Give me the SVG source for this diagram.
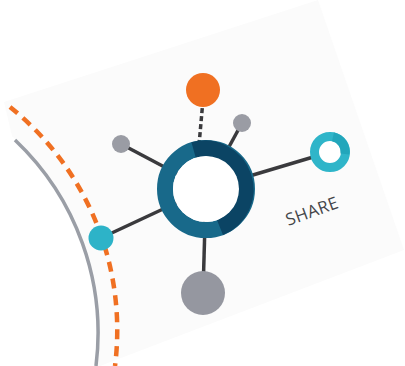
<svg xmlns="http://www.w3.org/2000/svg" width="405" height="366" viewBox="0 0 405 366">
<style>
.conn{stroke:#3a3a3d;stroke-width:3.5;fill:none}
.dash{stroke-dasharray:5 3}
.gray{fill:#9a9ca4}
.teal{fill:#2db3c8}
.lbl{font-family:"Open Sans","Liberation Sans",sans-serif;font-size:17px;fill:#45464a;letter-spacing:0.5px}
</style>
<rect width="405" height="366" fill="#ffffff"/>
<path id="card" d="M4 102 L318 0 L404 250 L100 366 L94 366 A 264 264 0 0 0 12 136 Z" fill="#fbfbfb"/>
<g id="arcs">
<path d="M15 140 A 266 266 0 0 1 96 366" fill="none" stroke="#9a9ea6" stroke-width="3.5"/>
<path d="M10 107 A 286 286 0 0 1 115 366" fill="none" stroke="#f07022" stroke-width="4.5" stroke-dasharray="10 7"/>
</g>
<g id="connectors">
<line class="conn" x1="206" y1="189" x2="121" y2="144"/>
<line class="conn" x1="206" y1="189" x2="242" y2="123"/>
<line class="conn dash" x1="199" y1="145" x2="203" y2="100"/>
<line class="conn" x1="206" y1="189" x2="330" y2="152"/>
<line class="conn" x1="206" y1="189" x2="101" y2="238"/>
<line class="conn" x1="206" y1="189" x2="203" y2="293"/>
</g>
<g id="hub">
<circle cx="206" cy="189" r="41" fill="none" stroke="#18698a" stroke-width="16"/>
<path d="M193.6 150 A 41 41 0 0 1 220 227.5" fill="none" stroke="#0b4464" stroke-width="16"/>
<circle cx="206" cy="189" r="33" fill="#ffffff"/>
</g>
<g id="orange-node"><circle cx="203" cy="90" r="17" fill="#f07022"/></g>
<g id="gray-small-right"><circle class="gray" cx="242" cy="123" r="9"/></g>
<g id="gray-small-left"><circle class="gray" cx="121" cy="144" r="9"/></g>
<g id="teal-ring">
<circle cx="330" cy="152" r="15.5" fill="#ffffff" stroke="#2fb5c9" stroke-width="9"/>
<path d="M333 136.8 A 15.5 15.5 0 0 1 345 154" fill="none" stroke="#22a6bb" stroke-width="9"/>
</g>
<g id="teal-dot"><circle class="teal" cx="101" cy="238" r="12.5"/></g>
<g id="gray-big"><circle cx="203" cy="293" r="22" fill="#9597a0"/></g>
<g id="share-label"><text class="lbl" x="312" y="217" text-anchor="middle" transform="rotate(-20 312 211)">SHARE</text></g>
</svg>
